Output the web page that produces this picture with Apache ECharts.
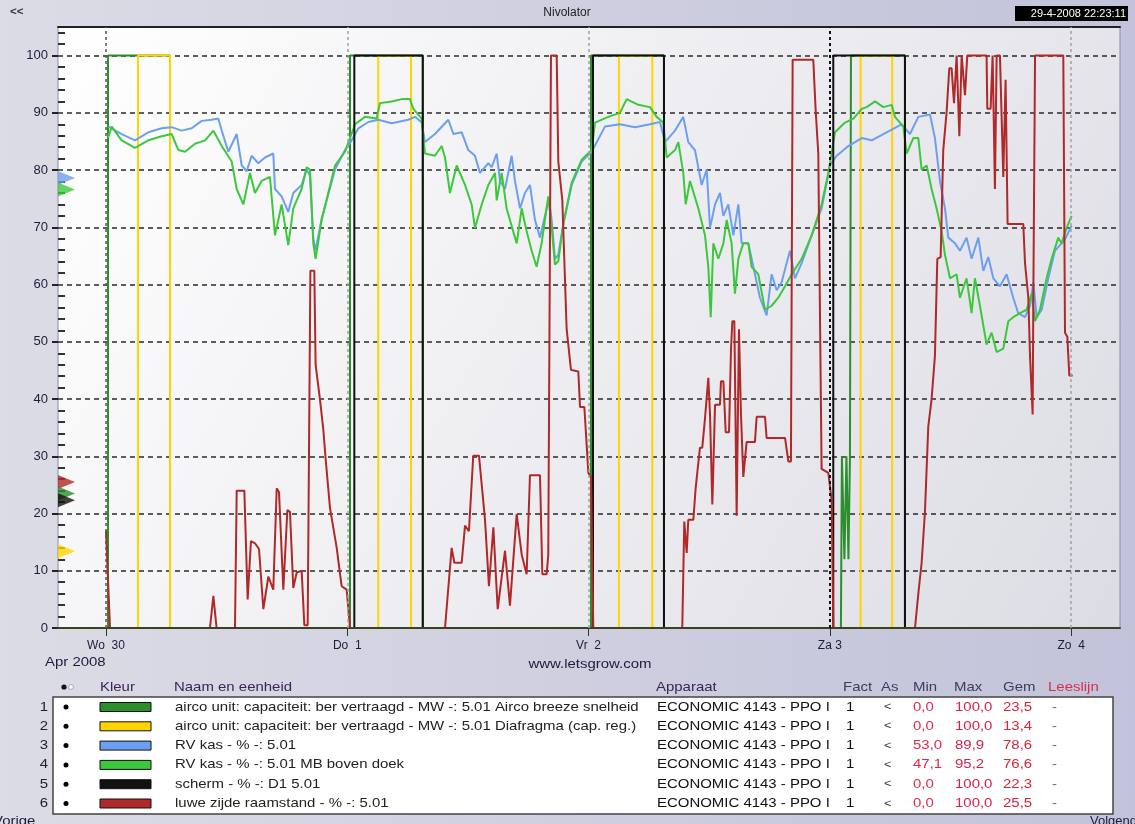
<!DOCTYPE html>
<html>
<head>
<meta charset="utf-8">
<title>Nivolator</title>
<script src="https://cdn.jsdelivr.net/npm/echarts@6/dist/echarts.min.js"></script>
<style>
html, body { margin: 0; padding: 0; }
#chart { width: 1135px; height: 824px; }
</style>
</head>
<body>
<div id="chart"></div>
<script>
// x = hours since wo 30 apr 2008 00:00
const dayTicks = [0, 24, 48, 72, 96];
const dayLabels = ['Wo  30', 'Do  1', 'Vr  2', 'Za 3', 'Zo  4'];

const airco = [[0,0],[0.2,0],[0.2,100],[6.37,100],[6.37,0],[24.27,0],[24.27,100],[31.53,100],[31.53,0],
  [48.24,0],[48.24,100],[55.5,100],[55.5,0],[73.1,0],[73.2,30],[73.45,12],[73.65,30],[73.85,12],[74.0,30],
  [74.1,100],[79.47,100],[79.47,0],[96,0]];

const diafragma = [[0,0],[3.18,0],[3.18,100],[6.37,100],[6.37,0],[27.08,0],[27.08,100],[30.34,100],[30.34,0],
  [51.02,0],[51.02,100],[54.34,100],[54.34,0],[75.06,0],[75.06,100],[78.2,100],[78.2,0],[96,0]];

const rvKas = [[0.23,87.6],[1.56,86.3],[2.88,85.2],[4.21,86.6],[5.54,87.3],[6.53,87.5],[7.53,86.9],[8.52,87.3],
  [9.52,88.6],[10.51,88.8],[11.17,89],[11.51,86.9],[12.17,83.2],[13.0,86.3],[13.5,80.8],[13.99,79.8],[14.49,82.5],
  [15.15,81.2],[15.81,82.2],[16.64,82.9],[16.81,76.7],[17.47,75.4],[18.13,72.7],[18.63,76],[19.46,77.4],[19.96,80.1],
  [20.29,79],[20.62,68],[20.85,66],[21.45,71.5],[22.78,80.1],[23.77,83.5],[24.44,85.2],[25.1,87.3],[26.09,88.4],
  [27.09,88.8],[28.42,88.2],[30.07,88.8],[30.74,89.3],[31.4,88.3],[31.73,84.9],[32.72,86.3],[34.05,88.8],[34.55,86.3],
  [35.38,86.6],[36.04,83.5],[36.7,82.5],[37.2,79.5],[38.03,81.2],[38.36,80.5],[38.86,82.9],[39.19,78.1],[39.69,76.7],
  [40.35,82.5],[40.68,78.1],[41.18,73.3],[41.67,76],[42.17,77.4],[42.67,71.3],[43.17,68.2],[43.66,72],[44.06,75],
  [44.33,71.3],[44.66,64.5],[44.99,65.2],[45.49,70.6],[46.32,77.4],[47.31,81.5],[48.31,83.2],[49.63,87.6],[51.12,88],
  [52.62,87.5],[54.11,88],[55.1,88.4],[55.6,84.9],[56.6,86.9],[57.42,89.3],[57.92,84.9],[58.58,83.5],[59.25,77.4],
  [59.75,80.1],[60.08,69.9],[60.58,74],[61.07,76],[61.41,72],[61.9,74],[62.4,68.6],[62.9,74],[63.23,67.2],[63.89,67.2],
  [64.39,63.1],[65.05,57.7],[65.71,54.6],[66.21,61.8],[66.71,59],[67.2,60.4],[68.03,65.9],[68.53,61.1],[69.2,63.8],
  [70.19,68.6],[71.18,73.3],[72.01,80.8],[72.68,82.5],[73.84,84.2],[75.17,85.6],[76.16,85.2],[77.65,86.6],[79.14,88],
  [79.97,86.3],[80.8,89.3],[81.96,89.7],[82.45,85.6],[82.95,78.1],[83.45,73.3],[83.78,68.2],[84.45,67.2],[84.94,65.9],
  [85.6,68.2],[86.1,64.5],[86.77,68.2],[87.26,62.4],[87.76,64.8],[88.26,61.1],[88.92,59.7],[89.58,61.8],[90.24,57.7],
  [90.74,55],[91.41,54.3],[91.91,56.3],[92.24,60.4],[92.57,54.3],[93.07,55.6],[93.73,61.1],[94.39,65.9],[94.89,66.9],
  [95.39,67.9],[96.05,70.3]];

const rvKasMb = [[0.2,85.6],[0.57,87.6],[1.56,85.2],[2.88,83.9],[4.21,85.2],[5.54,85.9],[6.53,86.3],[7.2,83.5],
  [7.86,83.2],[8.85,84.6],[9.85,85.2],[10.68,86.9],[11.51,84.2],[12.5,81.5],[13.0,76.7],[13.66,74],[14.32,79.5],
  [14.82,76],[15.48,78.1],[16.31,78.8],[16.81,68.6],[17.47,74],[18.13,66.9],[18.63,73.3],[19.46,76.7],[19.96,80.5],
  [20.29,80.1],[20.62,67.2],[20.85,64.5],[21.45,71.3],[22.78,80.8],[23.77,83.2],[24.77,88],[25.76,89.3],[26.92,89],
  [27.25,91.7],[28.42,92],[29.41,92.4],[30.24,92.4],[30.57,90.7],[31.4,89],[31.73,82.9],[32.72,82.5],[33.39,84.2],
  [33.72,82.2],[34.21,76],[34.88,80.8],[35.71,77.4],[36.37,74],[36.7,69.9],[37.37,74],[38.03,77.4],[38.7,79.5],
  [38.86,74.7],[39.36,79.5],[39.85,73.3],[40.85,67.2],[41.35,73.3],[41.84,69.3],[42.34,65.9],[42.83,63.1],[43.33,67.2],
  [43.99,75.4],[44.33,69.9],[44.66,63.5],[44.99,64.1],[45.49,70.6],[46.32,77.8],[47.31,81.8],[48.31,83.5],[48.64,88.3],
  [49.96,89.3],[51.12,90],[51.79,92.4],[52.95,91.4],[54.11,91],[54.77,89.3],[55.44,88.3],[55.77,82.2],[56.6,83.5],
  [56.93,84.9],[57.42,79.5],[57.66,74],[58.09,78.1],[58.92,73.3],[59.58,68.6],[59.91,63.1],[60.15,54.3],[60.41,67.2],
  [60.91,64.5],[61.41,67.2],[61.74,71.3],[62.23,67.2],[62.56,58.4],[62.9,64.5],[63.39,67.2],[63.89,67.2],[64.22,63.1],
  [64.88,61.8],[65.55,55.6],[66.21,56.3],[66.87,57.7],[67.54,59.7],[68.2,61.8],[69.2,64.5],[70.19,68.6],[71.18,74],
  [71.85,79.5],[72.51,86.6],[73.51,88.3],[74.34,89],[75.17,90.7],[75.66,91],[76.49,92],[77.32,91],[78.15,91.4],
  [78.48,89.3],[79.31,87.6],[79.64,82.9],[80.3,85.6],[80.8,85.6],[81.13,80.1],[81.63,80.8],[82.12,76.7],[82.62,73.3],
  [83.12,69.3],[83.45,65.2],[83.95,61.1],[84.61,61.8],[84.94,57.7],[85.6,61.1],[86.1,55],[86.43,61.1],[86.93,56.3],
  [87.59,49.5],[88.09,51.6],[88.59,48.2],[89.25,48.8],[89.75,53.6],[90.24,54.3],[90.91,55],[91.57,55.6],[92.07,58.4],
  [92.41,53.6],[92.9,55.6],[93.56,61.1],[94.06,64.5],[94.72,68.2],[95.05,67.2],[95.55,69.9],[96.05,72]];

const scherm = [[0,0],[24.7,0],[24.7,100],[31.5,100],[31.5,0],[48.44,0],[48.44,100],[55.5,100],[55.5,0],
  [72.34,0],[72.34,100],[79.47,100],[79.47,0],[96,0]];

const raam = [[0.0,17],[0.4,0],[10.34,0],[10.68,5.6],[11.0,0],[12.83,0],[13.0,24],[13.76,24],[14.09,5],[14.42,15.2],
  [14.82,14.8],[15.22,13.8],[15.65,3.3],[16.15,9],[16.64,6.7],[16.98,24.4],[17.21,23.7],[17.64,6.7],[18.04,20.6],
  [18.3,20.3],[18.63,7],[18.97,9.7],[19.46,10],[19.73,0.5],[20.06,0.5],[20.33,62.4],[20.72,62.4],[20.85,46],[21.28,40],
  [21.62,34.6],[21.85,29.5],[22.28,21],[22.94,14.1],[23.44,7.3],[23.94,6.7],[24.27,0],
  [33.72,0],[34.38,14],[34.65,11.4],[35.38,11.4],[35.71,17.9],[36.1,16.9],[36.53,30.1],[37.1,30.1],[37.7,18.9],
  [38.09,7.3],[38.53,17.6],[38.96,3.3],[39.69,13.5],[40.18,3.9],[40.85,19.9],[41.35,12.8],[41.84,9.4],[42.17,26.7],
  [43.17,26.7],[43.4,9.4],[43.83,9.4],[43.99,12.8],[44.26,100],[44.83,100],[44.99,81.5],[45.39,74.7],[45.82,52.2],
  [46.25,45.1],[46.98,44.8],[47.15,38.6],[47.58,38.6],[47.98,27.1],[48.24,26.4],[48.47,0],
  [57.32,0],[57.52,18.6],[57.76,13.1],[57.92,18.9],[58.42,18.9],[58.65,24.4],[59.08,31.5],[59.31,31.5],[59.58,36.6],
  [59.91,43.7],[60.08,37.3],[60.31,21.6],[60.58,39],[61.07,39],[61.17,43.1],[61.41,43.1],[61.64,34.2],[61.97,34.2],
  [62.17,48.8],[62.3,53.6],[62.5,53.6],[62.73,19.6],[62.96,52.2],[63.16,37.3],[63.39,26.4],[63.72,32.5],[64.55,32.5],
  [64.72,36.9],[65.55,36.9],[65.71,33.2],[67.54,33.2],[67.87,29.1],[68.13,29.1],[68.3,99.3],[70.35,99.3],[70.58,90.7],
  [70.85,82.9],[71.18,27.8],[71.85,27.1],[72.18,22.3],[72.35,0],
  [80.47,0],[80.8,6],[81.13,11.4],[81.46,20.3],[81.79,35.2],[82.12,40],[82.45,47.5],[82.69,64.5],[83.02,64.8],
  [83.28,83.5],[83.62,90.3],[83.88,97.8],[84.11,97.8],[84.35,91.7],[84.61,100],[84.88,85.9],[85.11,100],[85.44,93.1],
  [85.67,100],[87.59,100],[87.66,90.7],[87.99,90.7],[88.19,100],[88.42,76.7],[88.59,100],[88.92,100],[89.25,78.8],
  [89.48,95.8],[89.68,70.6],[91.24,70.6],[91.41,63.8],[91.74,57.7],[91.91,47.5],[92.17,37.3],[92.24,57.7],[92.41,100],
  [95.22,100],[95.39,51.6],[95.62,50.9],[95.82,44.1],[96.15,44.1]];

// legend table
const names = [
  'airco unit: capaciteit: ber vertraagd - MW -: 5.01 Airco breeze snelheid',
  'airco unit: capaciteit: ber vertraagd - MW -: 5.01 Diafragma (cap. reg.)',
  'RV kas - % -: 5.01',
  'RV kas - % -: 5.01 MB boven doek',
  'scherm - % -: D1 5.01',
  'luwe zijde raamstand - % -: 5.01'
];
const devices = ['ECONOMIC 4143 - PPO I', 'ECONOMIC 4143 - PPO I', 'ECONOMIC 4143 - PPO I',
  'ECONOMIC 4143 - PPO I', 'ECONOMIC 4143 - PPO I', 'ECONOMIC 4143 - PPO I'];
const factors = ['1', '1', '1', '1', '1', '1'];
const axisSide = ['<', '<', '<', '<', '<', '<'];
const mins = ['0,0', '0,0', '53,0', '47,1', '0,0', '0,0'];
const maxs = ['100,0', '100,0', '89,9', '95,2', '100,0', '100,0'];
const avgs = [23.5, 13.4, 78.6, 76.6, 22.3, 25.5];

const colors = ['#2b8f2b', '#ffd400', '#6d9ff0', '#3cc83c', '#111111', '#b02828'];
const seriesData = [airco, diafragma, rvKas, rvKasMb, scherm, raam];

const FONT = 'Liberation Sans';
const STRETCH = 1.15; // the screenshot text is a bit wider than the font
const chart = echarts.init(document.getElementById('chart'));

function txt(x, y, text, opt) {
  opt = opt || {};
  return {
    type: 'text', x: x, y: y, silent: true, z: 10,
    scaleX: opt.noStretch ? 1 : STRETCH,
    style: {
      text: text, fill: opt.color || '#1c1c3c', fontFamily: FONT,
      fontSize: opt.size || 13, fontWeight: opt.weight || 'normal',
      align: opt.align || 'left', verticalAlign: 'middle'
    }
  };
}

const graphics = [];
graphics.push(txt(10, 12, '<<', { size: 10, weight: 'bold', color: '#333' }));
graphics.push(txt(567, 13, 'Nivolator', { size: 12, align: 'center', color: '#222', noStretch: true }));
graphics.push({ type: 'rect', shape: { x: 1015, y: 6, width: 113, height: 15 }, style: { fill: '#000' }, z: 9 });
graphics.push(txt(1126, 14, '29-4-2008 22:23:11', { size: 11, align: 'right', color: '#fff', noStretch: true }));
graphics.push(txt(45, 662, 'Apr 2008', { size: 13 }));
graphics.push(txt(590, 664, 'www.letsgrow.com', { size: 13, align: 'center' }));

// header
const hdrY = 687;
graphics.push({ type: 'circle', z: 10, shape: { cx: 64, cy: hdrY, r: 2.6 }, style: { fill: '#111' } });
graphics.push({ type: 'circle', z: 10, shape: { cx: 71, cy: hdrY, r: 2.4 }, style: { fill: '#fff', stroke: '#aaa', lineWidth: 1 } });
graphics.push(txt(100, hdrY, 'Kleur', { color: '#3c2458' }));
graphics.push(txt(174, hdrY, 'Naam en eenheid', { color: '#3c2458' }));
graphics.push(txt(656, hdrY, 'Apparaat', { color: '#3c2458' }));
graphics.push(txt(843, hdrY, 'Fact', { color: '#3c3c5c' }));
graphics.push(txt(881, hdrY, 'As', { color: '#3c3c5c' }));
graphics.push(txt(913, hdrY, 'Min', { color: '#3c3c5c' }));
graphics.push(txt(954, hdrY, 'Max', { color: '#3c3c5c' }));
graphics.push(txt(1003, hdrY, 'Gem', { color: '#3c3c5c' }));
graphics.push(txt(1048, hdrY, 'Leeslijn', { color: '#d8304c' }));

graphics.push({
  type: 'rect', z: 5, shape: { x: 53, y: 697, width: 1060, height: 117 },
  style: { fill: '#ffffff', stroke: '#444', lineWidth: 1.5 }
});

names.forEach(function (name, i) {
  const y = 707 + i * 19.3;
  graphics.push(txt(48, y, String(i + 1), { align: 'right', color: '#222' }));
  graphics.push({ type: 'circle', z: 10, shape: { cx: 66, cy: y, r: 2.5 }, style: { fill: '#000' } });
  graphics.push({
    type: 'rect', z: 10, shape: { x: 100, y: y - 4.5, width: 51, height: 9 },
    style: { fill: colors[i], stroke: '#111', lineWidth: 1 }
  });
  graphics.push(txt(175, y, name, { color: '#222' }));
  graphics.push(txt(657, y, devices[i], { color: '#111' }));
  graphics.push(txt(846, y, factors[i], { color: '#111' }));
  graphics.push(txt(884, y, axisSide[i], { size: 11, color: '#333' }));
  graphics.push(txt(913, y, mins[i], { color: '#e0284a' }));
  graphics.push(txt(955, y, maxs[i], { color: '#d81e48' }));
  graphics.push(txt(1003, y, avgs[i].toFixed(1).replace('.', ','), { color: '#d8243c' }));
  graphics.push(txt(1052, y, '-', { color: '#5868a0' }));
});

graphics.push(txt(-7, 821, 'Vorige', { size: 13 }));
graphics.push(txt(1090, 821, 'Volgend', { size: 13, noStretch: true }));

const series = seriesData.map(function (data, i) {
  const s = {
    name: names[i], type: 'line', data: data, showSymbol: false, symbol: 'none',
    lineStyle: { color: colors[i], width: 2 }, itemStyle: { color: colors[i] },
    animation: false, z: 2 + i * 0.01
  };
  if (i === 0) {
    s.markLine = {
      silent: true, symbol: ['none', 'none'], label: { show: false }, animation: false,
      data: dayTicks.map(function (d, k) {
        const dark = k === 0 || k === 3;
        return {
          xAxis: d,
          lineStyle: { color: k === 3 ? '#111' : (dark ? '#555' : '#a0a0a8'), type: [3, 3], width: k === 3 ? 2 : 1.5 }
        };
      })
    };
  }
  return s;
});

// average markers on the left axis
series.push({
  type: 'scatter', animation: false, z: 5,
  symbol: 'triangle', symbolRotate: -90, symbolSize: [14, 17],
  data: [2, 5, 0, 4, 1, 3].map(function (i) {
    return { value: [-3.93, avgs[i]], itemStyle: { color: colors[i] } };
  })
});

chart.setOption({
  backgroundColor: new echarts.graphic.LinearGradient(0, 0, 1, 0, [
    { offset: 0, color: '#dcdce6' }, { offset: 1, color: '#c2c2da' }
  ]),
  textStyle: { fontFamily: FONT },
  grid: {
    left: 58, right: 15, top: 27, bottom: 196, show: true,
    backgroundColor: new echarts.graphic.LinearGradient(0, 0, 1, 1, [
      { offset: 0, color: '#ffffff' }, { offset: 1, color: '#dcdce4' }
    ]),
    borderColor: '#8c8ca0', borderWidth: 1
  },
  xAxis: [{
    type: 'value', min: -4.774, max: 100.86, z: 3,
    axisLine: { show: true, onZero: false, lineStyle: { color: '#3a4320', width: 2 } },
    axisTick: { show: true, customValues: dayTicks, length: 8, lineStyle: { color: '#333', width: 1 } },
    axisLabel: {
      customValues: dayTicks, margin: 12, fontSize: 12, color: '#1c1c3c', fontFamily: FONT,
      formatter: function (v) { return dayLabels[dayTicks.indexOf(v)]; }
    },
    splitLine: { show: false }
  }, {
    type: 'value', position: 'top', min: -4.774, max: 100.86,
    axisLine: { show: true, onZero: false, lineStyle: { color: '#222', width: 2 } },
    axisTick: { show: false }, axisLabel: { show: false }, splitLine: { show: false }
  }],
  yAxis: [{
    type: 'value', min: 0, max: 105, interval: 10,
    axisLine: { show: false, onZero: false },
    axisTick: { show: true, length: 6, lineStyle: { color: '#222', width: 2 } },
    axisLabel: { showMaxLabel: false, fontSize: 13, color: '#1c1c3c', margin: 10, fontFamily: FONT },
    splitLine: { show: true, lineStyle: { color: '#2a2a2a', type: [5, 4], width: 1.5 } }
  }, {
    type: 'value', position: 'left', min: 0, max: 105, interval: 10,
    axisLine: { show: false, onZero: false },
    axisTick: { show: false, inside: true },
    minorTick: { show: true, splitNumber: 5, length: 7, lineStyle: { color: '#333', width: 2 } },
    axisLabel: { show: false }, splitLine: { show: false }
  }],
  graphic: graphics,
  series: series
});
</script>
</body>
</html>
